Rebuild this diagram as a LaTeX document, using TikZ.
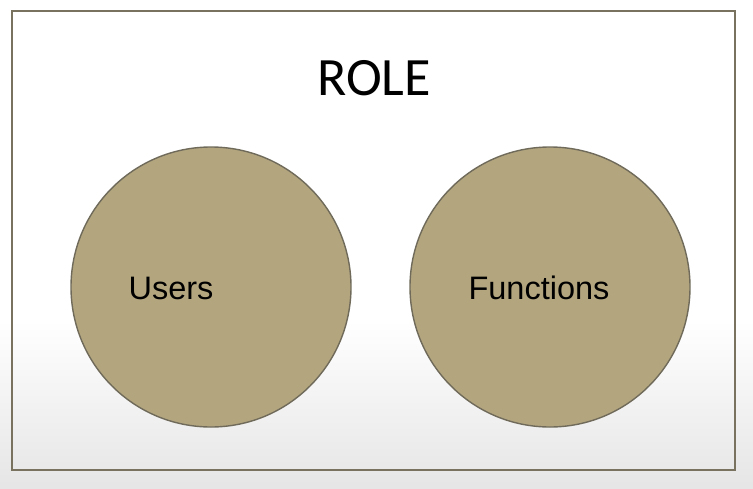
\documentclass[tikz,border=0pt]{standalone}
\usepackage{fontspec}
\setmainfont{Liberation Sans}
\newfontfamily\titlefont{Carlito}
\usepackage{tikz}
\usetikzlibrary{positioning}
\definecolor{khaki}{HTML}{B3A67F}
\definecolor{rim}{HTML}{6F6A5A}
\definecolor{frame}{HTML}{78725F}

\begin{document}
\begin{tikzpicture}[x=1pt, y=-1pt, font=\fontsize{32.5}{38}\selectfont]
    \useasboundingbox (0,0) rectangle (753,488);
    \fill[white] (0,0) rectangle (753,488);
    \shade[top color=white, bottom color=black!10] (0,320) rectangle (753,488);
    \draw[frame, line width=2.2pt] (12,11) rectangle (735,470);
    \node (role) at (374,78) {\titlefont\fontsize{54}{62}\selectfont ROLE};
    \node[circle, draw=rim, fill=khaki, line width=1.4pt, minimum size=280pt, inner sep=0pt] (usersset) at (211,287) {};
    \node[circle, draw=rim, fill=khaki, line width=1.4pt, minimum size=280pt, inner sep=0pt] (funcset) at (550,287) {};
    \node (users) at (171,288) {Users};
    \node (func) at (539,288) {Functions};
  \end{tikzpicture}
\end{document}
